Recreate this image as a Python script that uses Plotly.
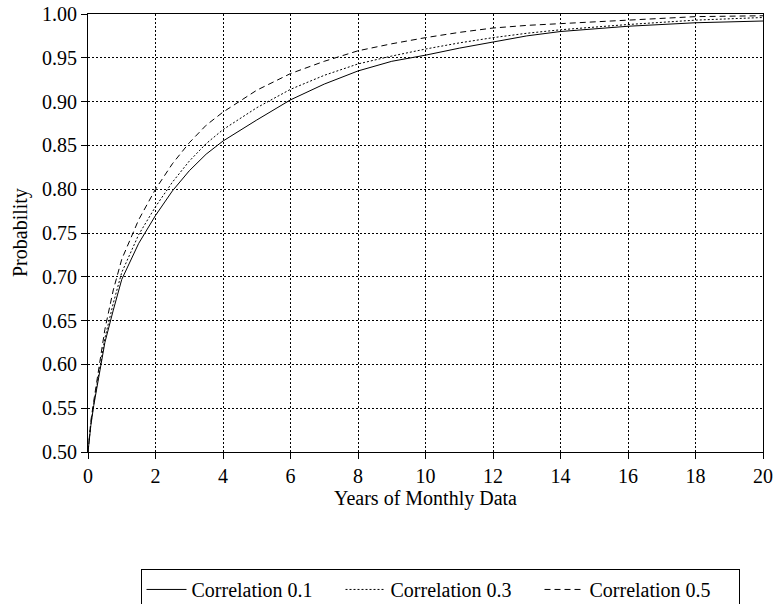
import plotly.graph_objects as go

years = [0, 0.083, 0.17, 0.25, 0.5, 0.75, 1, 1.5, 2, 2.5, 3, 3.5, 4, 5, 6, 7, 8, 9, 10, 11, 12, 13, 14, 16, 18, 20]
corr_01 = [0.50, 0.530, 0.553, 0.570, 0.625, 0.662, 0.697, 0.738, 0.770, 0.798, 0.821, 0.840, 0.855, 0.879, 0.902, 0.920, 0.935, 0.946, 0.953, 0.961, 0.968, 0.975, 0.980, 0.986, 0.990, 0.992]
corr_03 = [0.50, 0.532, 0.555, 0.573, 0.630, 0.670, 0.705, 0.748, 0.780, 0.808, 0.832, 0.852, 0.868, 0.893, 0.914, 0.930, 0.943, 0.952, 0.960, 0.967, 0.973, 0.978, 0.982, 0.988, 0.993, 0.996]
corr_05 = [0.50, 0.535, 0.558, 0.578, 0.640, 0.685, 0.720, 0.765, 0.800, 0.829, 0.853, 0.873, 0.888, 0.913, 0.932, 0.946, 0.958, 0.966, 0.973, 0.979, 0.984, 0.987, 0.989, 0.993, 0.997, 0.998]

series = [
    ("Correlation 0.1", corr_01, "solid"),
    ("Correlation 0.3", corr_03, "2px,2px"),
    ("Correlation 0.5", corr_05, "6px,4px"),
]

font = "Liberation Serif, Times New Roman, serif"
fs = 20
fig = go.Figure()
for name, vals, dash in series:
    fig.add_trace(go.Scatter(x=years, y=vals, mode="lines", name=name,
                             line=dict(color="black", width=1, dash=dash)))

axis_common = dict(showline=True, linecolor="black", linewidth=1, mirror=True,
                   showgrid=True, gridcolor="black", gridwidth=1, griddash="2px,2px",
                   ticks="outside", ticklen=6, tickcolor="black", zeroline=False,
                   automargin=False,
                   tickfont=dict(family=font, size=fs, color="black"))

fig.update_xaxes(range=[0, 20], dtick=2, tick0=0,
                 title=dict(text="Years of Monthly Data", font=dict(family=font, size=fs, color="black"), standoff=2),
                 **axis_common)
fig.update_yaxes(range=[0.5, 1.0], dtick=0.05, tick0=0.5, tickformat=".2f",
                 **axis_common)

fig.add_annotation(text="Probability", xref="paper", yref="paper",
                   x=-0.1007, y=0.5, xanchor="center", yanchor="middle",
                   textangle=-90, showarrow=False,
                   font=dict(family=font, size=fs, color="black"))

fig.update_layout(
    width=780, height=604,
    margin=dict(l=88, r=17, t=14, b=152, autoexpand=False),
    paper_bgcolor="white", plot_bgcolor="white",
    font=dict(family=font, size=fs, color="black"),
    showlegend=True,
    legend=dict(orientation="h", x=0.5215, xanchor="center", y=-0.267, yanchor="top",
                bordercolor="black", borderwidth=1, bgcolor="white",
                entrywidth=144, entrywidthmode="pixels",
                font=dict(family=font, size=fs, color="black"), itemwidth=40),
)

fig.write_html("out.html")
